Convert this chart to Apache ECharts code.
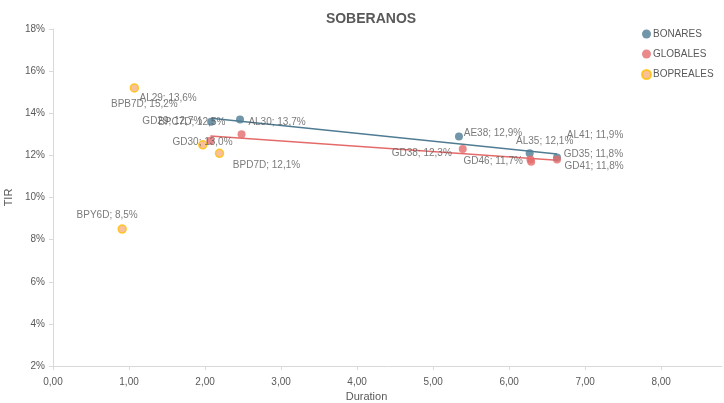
<!DOCTYPE html>
<html lang="es">
<head>
    <meta charset="utf-8"/>
    <title>SOBERANOS</title>
    <script src="https://cdn.jsdelivr.net/npm/echarts@6/dist/echarts.min.js"></script>
    <style>
        html, body { margin: 0; padding: 0; background: #fff; }
        #chart { width: 724px; height: 403px; }
    </style>
</head>
<body>
<div id="chart"></div>
<script type="text/javascript">
    // bonos: nombre, duration, TIR (%)
    var bonaresNames = ['AL29', 'AL30', 'AE38', 'AL35', 'AL41'];
    var bonaresDur   = [2.08, 2.46, 5.34, 6.27, 6.63];
    var bonaresTir   = [13.6, 13.7, 12.9, 12.1, 11.9];

    var globalesNames = ['GD29', 'GD30', 'GD38', 'GD35', 'GD46', 'GD41'];
    var globalesDur   = [2.07, 2.48, 5.39, 6.28, 6.29, 6.63];
    var globalesTir   = [12.7, 13.0, 12.3, 11.8, 11.7, 11.8];

    var bopNames = ['BPB7D', 'BPC7D', 'BPD7D', 'BPY6D'];
    var bopDur   = [1.07, 1.97, 2.19, 0.91];
    var bopTir   = [15.2, 12.5, 12.1, 8.5];

    var xTicks = [0, 1, 2, 3, 4, 5, 6, 7, 8];

    // desplazamiento de cada etiqueta respecto del punto (px)
    var labelOffsets = {
        AL29: [-43, -23], AL30: [37, 3], AE38: [34, -3], AL35: [15, -12], AL41: [38, -22],
        GD29: [-38, -19], GD30: [-39, 8], GD38: [-41, 4], GD35: [63, -5], GD46: [-38, 0], GD41: [37, 7],
        BPB7D: [10, 16], BPC7D: [-11, -23], BPD7D: [47, 12], BPY6D: [-15, -14]
    };

    var txt = '#595959';
    var font = 'Liberation Sans';

    function fmt(v) {
        return v.toFixed(1).replace('.', ',') + '%';
    }

    function points(names, xs, ys) {
        return names.map(function (n, i) {
            return { name: n, value: [xs[i], ys[i]] };
        });
    }

    // tendencia lineal (minimos cuadrados), como en Excel
    function trend(xs, ys) {
        var n = xs.length, mx = 0, my = 0, sxy = 0, sxx = 0;
        for (var i = 0; i < n; i++) { mx += xs[i]; my += ys[i]; }
        mx /= n; my /= n;
        for (var j = 0; j < n; j++) {
            sxy += (xs[j] - mx) * (ys[j] - my);
            sxx += (xs[j] - mx) * (xs[j] - mx);
        }
        var b = sxy / sxx, a = my - b * mx;
        var x0 = Math.min.apply(null, xs), x1 = Math.max.apply(null, xs);
        return [[x0, a + b * x0], [x1, a + b * x1]];
    }

    function scatter(name, names, xs, ys, color, fill) {
        return {
            name: name,
            type: 'scatter',
            symbolSize: 8,
            data: points(names, xs, ys),
            z: 3,
            itemStyle: fill ? { color: fill, borderColor: color, borderWidth: 1.5 } : { color: color },
            label: {
                show: true,
                position: 'inside',
                align: 'center',
                verticalAlign: 'middle',
                color: txt,
                fontFamily: font,
                fontSize: 10,
                formatter: function (p) { return p.name + '; ' + fmt(p.value[1]); }
            },
            labelLayout: function (p) {
                var o = labelOffsets[names[p.dataIndex]];
                return { dx: o[0], dy: o[1], hideOverlap: false };
            }
        };
    }

    function trendLine(data, color) {
        return {
            type: 'line',
            data: data,
            symbol: 'none',
            silent: true,
            z: 2,
            lineStyle: { color: color, width: 1.5 }
        };
    }

    var cBon = '#4F7C93', cGlo = '#E56B6B', cBop = '#FFC000', fBop = '#F6B183';

    var chart = echarts.init(document.getElementById('chart'));
    chart.setOption({
        animation: false,
        textStyle: { fontFamily: font },
        title: {
            text: 'SOBERANOS',
            left: 366,
            top: 7,
            textAlign: 'center',
            textStyle: { color: txt, fontSize: 14, fontWeight: 'bold', fontFamily: font }
        },
        legend: {
            orient: 'vertical',
            left: 636,
            top: 24,
            itemGap: 10,
            itemWidth: 9,
            itemHeight: 9,
            icon: 'circle',
            data: ['BONARES', 'GLOBALES', 'BOPREALES'],
            textStyle: { color: txt, fontSize: 10, fontFamily: font, padding: [0, 0, 0, -3] }
        },
        grid: { left: 53, right: 2, top: 29, bottom: 37, outerBoundsMode: 'none' },
        xAxis: {
            type: 'value',
            min: 0,
            max: 8.8,
            interval: 1,
            name: 'Duration',
            nameLocation: 'middle',
            nameGap: 24,
            nameTextStyle: { color: txt, fontSize: 11, padding: [0, 0, 0, -42] },
            axisLine: { lineStyle: { color: '#D9D9D9' } },
            axisTick: { show: true, length: 4, customValues: xTicks, lineStyle: { color: '#D9D9D9' } },
            splitLine: { show: false },
            axisLabel: {
                color: txt, fontSize: 10, margin: 11,
                customValues: xTicks,
                formatter: function (v) { return v.toFixed(2).replace('.', ','); }
            }
        },
        yAxis: {
            type: 'value',
            min: 2,
            max: 18,
            interval: 2,
            name: 'TIR',
            nameLocation: 'middle',
            nameGap: 30,
            nameTextStyle: { color: txt, fontSize: 11 },
            axisLine: { show: true, lineStyle: { color: '#D9D9D9' } },
            axisTick: { show: true, length: 4, lineStyle: { color: '#D9D9D9' } },
            splitLine: { show: false },
            axisLabel: {
                color: txt, fontSize: 10, margin: 8,
                formatter: function (v) { return v + '%'; }
            }
        },
        series: [
            trendLine(trend(bonaresDur, bonaresTir), cBon),
            trendLine(trend(globalesDur, globalesTir), cGlo),
            scatter('BONARES', bonaresNames, bonaresDur, bonaresTir, cBon),
            scatter('GLOBALES', globalesNames, globalesDur, globalesTir, cGlo),
            scatter('BOPREALES', bopNames, bopDur, bopTir, cBop, fBop)
        ]
    });
</script>
</body>
</html>
